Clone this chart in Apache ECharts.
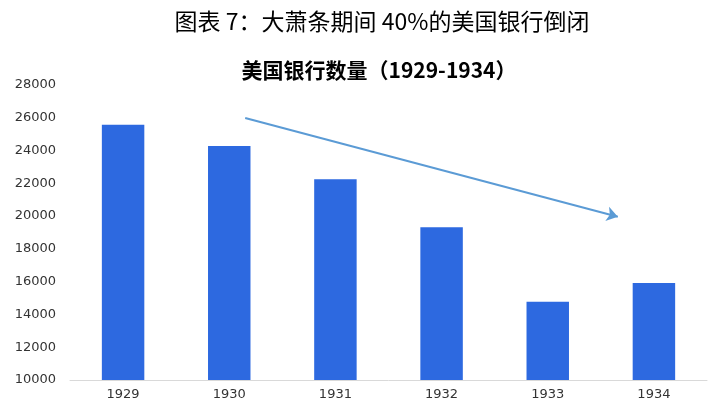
<!DOCTYPE html>
<html>
<head>
<meta charset="utf-8">
<script src="https://cdn.jsdelivr.net/npm/echarts@6/dist/echarts.min.js"></script>
<style>
  html, body { margin: 0; padding: 0; background: #fff; }
  #chart { width: 714px; height: 406px; }
</style>
</head>
<body>
<div id="chart"></div>
<script>
var years = ['1929', '1930', '1931', '1932', '1933', '1934'];
var bankCount = [25568, 24273, 22242, 19317, 14771, 15913];
// trend arrow ends, in (category position, value)
var arrowStart = [1.15, 25990];
var arrowEnd = [4.66, 19960];

var myChart = echarts.init(document.getElementById('chart'));
var option = {
    animation: false,
    title: [
        {
            text: '图表 7：大萧条期间 40%的美国银行倒闭',
            left: 377, top: 5, textAlign: 'center',
            textStyle: {fontFamily: 'Noto Sans CJK SC', fontSize: 23, fontWeight: 'normal', color: '#000'}
        },
        {
            text: '美国银行数量（1929-1934）',
            left: 374, top: 55, textAlign: 'center',
            textStyle: {fontFamily: 'Noto Sans CJK SC', fontSize: 21, fontWeight: 'bold', color: '#000'}
        }
    ],
    grid: {left: 70, right: 7, top: 85, bottom: 26},
    xAxis: [
        {
            type: 'category',
            data: years,
            axisLine: {lineStyle: {color: '#d9d9d9'}},
            axisTick: {show: false},
            axisLabel: {color: '#333', fontSize: 13, fontFamily: 'DejaVu Sans', margin: 8}
        },
        {
            // hidden value axis so the trend arrow can sit between categories
            type: 'value', min: -0.5, max: 5.5, show: false
        }
    ],
    yAxis: {
        type: 'value',
        min: 10000, max: 28000, interval: 2000,
        axisLine: {show: false},
        axisTick: {show: false},
        splitLine: {show: false},
        axisLabel: {
            color: '#333', fontSize: 13, fontFamily: 'DejaVu Sans', margin: 14,
            formatter: function (v) { return String(v); }
        }
    },
    series: [
        {
            name: '美国银行数量',
            type: 'bar',
            data: bankCount,
            barWidth: '40%',
            itemStyle: {color: '#2D69E0'}
        },
        {
            type: 'line',
            xAxisIndex: 1,
            data: [],
            markLine: {
                silent: true,
                symbol: ['none', 'arrow'],
                symbolSize: 11,
                label: {show: false},
                lineStyle: {color: '#5B9BD5', width: 2, type: 'solid'},
                data: [[{coord: arrowStart}, {coord: arrowEnd}]]
            }
        }
    ]
};
myChart.setOption(option);
</script>
</body>
</html>
